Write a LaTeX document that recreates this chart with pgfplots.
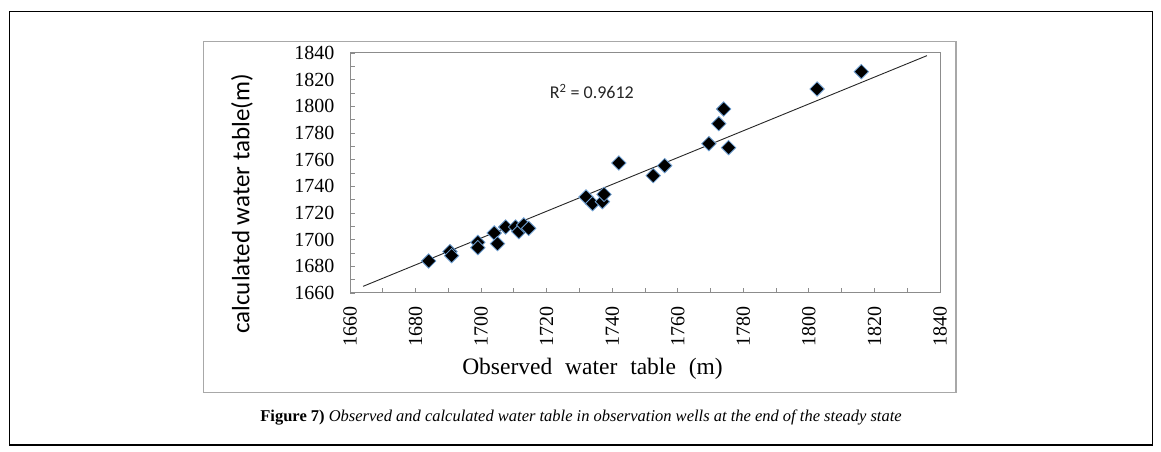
\documentclass[border=0pt]{standalone}
\usepackage{fontspec}
\setmainfont{Liberation Serif}
\newfontfamily\calfont{Carlito}
\usepackage{pgfplots}
\pgfplotsset{compat=1.18}
\definecolor{axgray}{HTML}{8C8C8C}
\definecolor{framegray}{HTML}{A8A8A8}
\definecolor{halo}{HTML}{6E9FD2}
\begin{document}
\begin{tikzpicture}[x=1pt,y=1pt]
\useasboundingbox (0,0) rectangle (1161,452);
\fill[white] (0,0) rectangle (1161,452);
\draw[black, line width=1.1pt] (9.5,7) rectangle (1152.3,440.3);
\draw[framegray, line width=1.2pt] (203.3,59.7) rectangle (956,410.3);
\begin{axis}[
  at={(350pt,159pt)}, anchor=south west,
  width=590pt, height=240pt, scale only axis,
  xmin=1660, xmax=1840, ymin=1660, ymax=1840,
  xtick distance=20, ytick distance=20,
  minor x tick num=1, minor y tick num=1,
  tick align=inside,
  xtick pos=bottom, ytick pos=left,
  major tick length=4.5pt, minor tick length=4.5pt,
  axis line style={axgray, line width=1pt},
  every tick/.style={axgray, line width=0.8pt},
  every minor tick/.style={axgray, line width=0.8pt},
  /pgf/number format/assume math mode=true,
  /pgf/number format/1000 sep={},
  tick label style={font=\fontsize{20}{22}\selectfont},
  xticklabel style={rotate=90, anchor=east, yshift=0pt, xshift=-10pt},
  yticklabel style={xshift=-12pt},
  clip=false,
]
\addplot[color=black!85, line width=0.9pt] coordinates {(1664,1665) (1836,1838)};
\addplot[only marks, mark=square*, mark size=5.1pt,
  mark options={rotate=45, fill=black, draw=halo, line width=0.8pt}]
  coordinates {
  (1684,1684)
  (1690.5,1691)
  (1691,1688)
  (1699,1698)
  (1699,1694)
  (1704,1705)
  (1705,1697)
  (1707.5,1709.5)
  (1710.5,1709.5)
  (1711.5,1706)
  (1713,1711)
  (1714.5,1708.5)
  (1732,1732)
  (1734,1727)
  (1737,1728.5)
  (1737.5,1734)
  (1742,1757.5)
  (1752.5,1748)
  (1756,1755.5)
  (1769.5,1772)
  (1775.5,1769)
  (1772.5,1787)
  (1774,1798)
  (1802.5,1813)
  (1816,1826)
  };
\node[font=\calfont\fontsize{18}{20}\selectfont, text=black!85] at (axis cs:1733.8,1811) {R\textsuperscript{2} = 0.9612};
\end{axis}
\node[rotate=90, font=\calfont\fontsize{25}{28}\selectfont] at (242,248) {calculated water table(m)};
\node[font=\fontsize{23.5}{26}\selectfont] at (592.5,83) {Observed\hspace{7pt} water\hspace{7pt} table\hspace{7pt} (m)};
\node[font=\fontsize{16.5}{18}\selectfont] at (581,34) {\textbf{Figure 7)} \textit{Observed and calculated water table in observation wells at the end of the steady state}};
\end{tikzpicture}
\end{document}
